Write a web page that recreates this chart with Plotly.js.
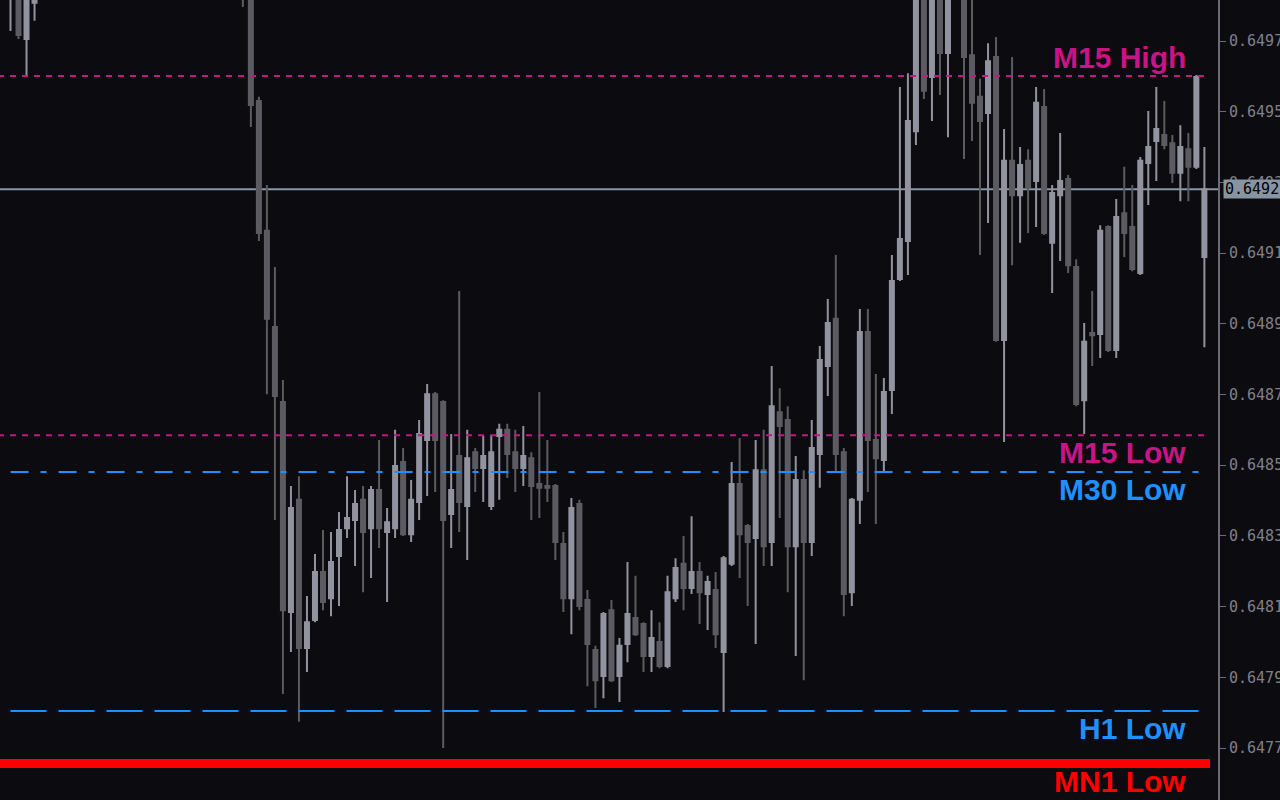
<!DOCTYPE html>
<html>
<head>
<meta charset="utf-8">
<script src="https://cdn.plot.ly/plotly-3.0.1.min.js"></script>
<style>
html,body{margin:0;padding:0;background:#0b0b10;overflow:hidden;width:1280px;height:800px;}
#chart{width:1280px;height:800px;}
</style>
</head>
<body>
<div id="chart"></div>
<script>
// ---- data (prices) ----
const openP = [
0.649844,0.649929,0.649706,0.649808,0.649901,0.649975,0.650020,0.650005,0.650045,0.650090,
0.650060,0.650085,0.650140,0.650110,0.650075,0.650100,0.650150,0.650115,0.650065,0.650030,
0.650060,0.650035,0.649990,0.650020,0.649965,0.649995,0.649955,0.649930,0.649950,0.649990,
0.649858,0.649530,0.649163,0.648891,0.648679,0.648085,0.648402,0.647983,0.648062,0.648198,
0.648124,0.648243,0.648322,0.648345,0.648402,0.648322,0.648430,0.648311,0.648322,0.648509,
0.648305,0.648396,0.648571,0.648701,0.648679,0.648362,0.648526,0.648385,0.648537,0.648492,
0.648385,0.648583,0.648600,0.648537,0.648492,0.648520,0.648447,0.648441,0.648441,0.648277,
0.648124,0.648390,0.648119,0.647977,0.647904,0.648090,0.647904,0.647994,0.648068,0.648051,
0.647960,0.648000,0.647932,0.648124,0.648221,0.648153,0.648198,0.648136,0.648147,0.647972,
0.648221,0.648447,0.648328,0.648294,0.648486,0.648283,0.648650,0.648628,0.648271,0.648458,
0.648283,0.648532,0.648781,0.648914,0.648537,0.648141,0.648402,0.648877,0.648571,0.648515,
0.648713,0.649027,0.649134,0.649445,0.649813,0.649598,0.649830,0.649666,0.649850,0.649940,
0.649660,0.649542,0.649496,0.649655,0.648854,0.649361,0.649264,0.649361,0.649304,0.649513,
0.649129,0.649264,0.649310,0.649061,0.648684,0.648874,0.648871,0.649174,0.648826,0.649213,
0.649174,0.649044,0.649355,0.649417,0.649434,0.649411,0.649327,0.649394,0.649344,0.649089
];
const highP = [
0.649957,0.649943,0.649830,0.649929,0.649990,0.650040,0.650080,0.650060,0.650110,0.650130,
0.650100,0.650150,0.650180,0.650135,0.650120,0.650160,0.650170,0.650130,0.650095,0.650080,
0.650090,0.650050,0.650040,0.650030,0.650010,0.650020,0.649985,0.649970,0.649980,0.650000,
0.649873,0.649542,0.649293,0.649061,0.648741,0.648441,0.648469,0.648130,0.648249,0.648317,
0.648311,0.648368,0.648469,0.648430,0.648441,0.648441,0.648571,0.648379,0.648600,0.648549,
0.648458,0.648628,0.648730,0.648707,0.648684,0.648588,0.648993,0.648600,0.648549,0.648583,
0.648583,0.648617,0.648617,0.648600,0.648611,0.648537,0.648707,0.648571,0.648447,0.648311,
0.648407,0.648402,0.648147,0.647989,0.648085,0.648119,0.648011,0.648226,0.648187,0.648056,
0.648090,0.648056,0.648187,0.648237,0.648300,0.648356,0.648226,0.648187,0.648198,0.648243,
0.648509,0.648577,0.648334,0.648571,0.648600,0.648781,0.648718,0.648667,0.648526,0.648486,
0.648628,0.648837,0.648970,0.649095,0.648549,0.648407,0.648942,0.648942,0.648758,0.648747,
0.649095,0.649570,0.649609,0.649901,0.649858,0.649887,0.649873,0.649901,0.649960,0.649960,
0.649824,0.649593,0.649694,0.649711,0.649451,0.649655,0.649400,0.649394,0.649570,0.649564,
0.649293,0.649440,0.649321,0.649083,0.648902,0.648993,0.649179,0.649179,0.649253,0.649344,
0.649293,0.649372,0.649502,0.649570,0.649530,0.649434,0.649462,0.649440,0.649604,0.649400
];
const lowP = [
0.649728,0.649706,0.649604,0.649757,0.649870,0.649950,0.649990,0.649960,0.650030,0.650050,
0.650020,0.650070,0.650100,0.650060,0.650040,0.650090,0.650100,0.650050,0.650010,0.650000,
0.650020,0.649970,0.649960,0.649950,0.649920,0.649940,0.649900,0.649880,0.649870,0.649796,
0.649457,0.649134,0.648701,0.648345,0.647853,0.647972,0.647774,0.647915,0.648056,0.648090,
0.648073,0.648102,0.648294,0.648215,0.648141,0.648181,0.648266,0.648113,0.648294,0.648300,
0.648283,0.648345,0.648413,0.648424,0.647700,0.648266,0.648311,0.648232,0.648424,0.648396,
0.648373,0.648402,0.648464,0.648424,0.648441,0.648345,0.648351,0.648396,0.648232,0.648085,
0.648022,0.648090,0.647875,0.647813,0.647841,0.647887,0.647830,0.647943,0.648017,0.647915,
0.647915,0.647926,0.647926,0.648113,0.648090,0.648136,0.648051,0.648034,0.647983,0.647802,
0.648215,0.648181,0.648102,0.647994,0.648215,0.648215,0.648351,0.648141,0.647960,0.647892,
0.648243,0.648436,0.648696,0.648481,0.648073,0.648102,0.648334,0.648424,0.648334,0.648481,
0.648645,0.649021,0.649038,0.649406,0.649536,0.649474,0.649547,0.649428,0.649830,0.649366,
0.649417,0.649095,0.649185,0.648849,0.648566,0.649066,0.649129,0.649157,0.649174,0.649151,
0.648987,0.649078,0.649044,0.648667,0.648588,0.648781,0.648803,0.648820,0.648803,0.649089,
0.649049,0.649038,0.649236,0.649304,0.649394,0.649298,0.649247,0.649247,0.649338,0.648834
];
const closeP = [
0.649929,0.649717,0.649813,0.649901,0.649975,0.650020,0.650005,0.650045,0.650090,0.650060,
0.650085,0.650140,0.650110,0.650075,0.650100,0.650150,0.650115,0.650065,0.650030,0.650060,
0.650035,0.649990,0.650020,0.649965,0.649995,0.649955,0.649930,0.649950,0.649990,0.649858,
0.649519,0.649157,0.648914,0.648696,0.648090,0.648379,0.647983,0.648056,0.648198,0.648113,
0.648226,0.648317,0.648351,0.648390,0.648311,0.648430,0.648322,0.648339,0.648498,0.648305,
0.648402,0.648588,0.648701,0.648571,0.648345,0.648430,0.648396,0.648520,0.648492,0.648526,
0.648537,0.648600,0.648532,0.648492,0.648526,0.648441,0.648436,0.648436,0.648283,0.648124,
0.648379,0.648102,0.647994,0.647892,0.648079,0.647892,0.647989,0.648079,0.648022,0.647960,
0.648011,0.647932,0.648141,0.648209,0.648153,0.648198,0.648141,0.648170,0.648022,0.648237,
0.648447,0.648305,0.648283,0.648486,0.648271,0.648667,0.648611,0.648271,0.648458,0.648283,
0.648549,0.648798,0.648902,0.648532,0.648136,0.648402,0.648877,0.648571,0.648520,0.648707,
0.649021,0.649140,0.649474,0.649844,0.649559,0.649830,0.649666,0.649844,0.649940,0.649655,
0.649525,0.649474,0.649643,0.648854,0.649361,0.649264,0.649349,0.649287,0.649525,0.649157,
0.649270,0.649304,0.649066,0.648673,0.648849,0.648868,0.649163,0.648826,0.649202,0.649157,
0.649055,0.649361,0.649400,0.649451,0.649406,0.649327,0.649400,0.649344,0.649598,0.649281
];
const levelLabels = ['M15 High', 'M15 Low', 'M30 Low', 'H1 Low', 'MN1 Low'];
const levelPrices = [0.649601, 0.648585, 0.648481, 0.647805, 0.647656];
const tickValues = [0.6497, 0.6495, 0.6493, 0.6491, 0.6489, 0.6487, 0.6485, 0.6483, 0.6481, 0.6479, 0.6477];

// ---- drawing ----
const idx = openP.map((_, i) => i);
const last = idx.length - 1;
const bg = '#0b0b10';
const upCol = '#93939f';
const dnCol = '#5b5b61';
const monoFont = 'DejaVu Sans Mono, Liberation Mono, monospace';

const candle = {
  type: 'candlestick', x: idx, open: openP, high: highP, low: lowP, close: closeP,
  increasing: {line: {color: upCol, width: 2}, fillcolor: upCol},
  decreasing: {line: {color: dnCol, width: 2}, fillcolor: dnCol},
  whiskerwidth: 0, hoverinfo: 'skip', showlegend: false
};

const styles = {
  'M15 High': {color: '#C71585', dash: '6px,6px', width: 2, x0: -1.56, shift: 19},
  'M15 Low':  {color: '#C71585', dash: '6px,6px', width: 2, x0: -1.56, shift: -17},
  'M30 Low':  {color: '#1E90FF', dash: '18px,12px,6px,12px', width: 2, x0: 0, shift: -18},
  'H1 Low':   {color: '#1E90FF', dash: '36px,12px', width: 2, x0: 0, shift: -17.5},
  'MN1 Low':  {color: '#FF0000', dash: 'solid', width: 9, x0: -1.4, shift: -17.5, x1: last + 0.7}
};

const shapes = [];
const annotations = [];
levelLabels.forEach((name, k) => {
  const s = styles[name];
  shapes.push({type: 'line', xref: 'x', yref: 'y', x0: s.x0, x1: s.x1 !== undefined ? s.x1 : last,
    y0: levelPrices[k], y1: levelPrices[k], line: {color: s.color, width: s.width, dash: s.dash}, layer: 'above'});
  annotations.push({xref: 'paper', yref: 'y', x: 1188 / 1218, xanchor: 'right', y: levelPrices[k], yanchor: 'middle',
    yshift: s.shift, showarrow: false, text: '<b>' + name + '</b>',
    font: {family: 'Liberation Sans, Arial, sans-serif', size: 30, color: s.color}});
});
// current price line and label
const cur = closeP[last];
shapes.push({type: 'line', xref: 'paper', yref: 'y', x0: 0, x1: 1, y0: cur, y1: cur,
  line: {color: '#8a97a4', width: 2}, layer: 'below'});
annotations.push({xref: 'paper', yref: 'y', x: 1, xanchor: 'left', xshift: 5, y: cur, yanchor: 'middle',
  showarrow: false, text: cur.toFixed(5), bgcolor: '#8795a3', borderpad: 1,
  width: 54, height: 16, align: 'left',
  font: {family: monoFont, size: 15, color: '#000000'}});

const layout = {
  width: 1280, height: 800,
  margin: {l: 0, r: 62, t: 0, b: 0, pad: 0},
  paper_bgcolor: bg, plot_bgcolor: bg,
  showlegend: false,
  boxgap: 0.5, boxgroupgap: 0, boxmode: 'overlay',
  xaxis: {range: [-1.31, 150.7], visible: false, fixedrange: true, rangeslider: {visible: false}},
  yaxis: {range: [0.647553, 0.649816], side: 'right', showgrid: false, zeroline: false,
    showline: true, linecolor: '#6c6c76', linewidth: 2, ticks: 'outside', ticklen: 6, tickwidth: 1,
    tickcolor: '#6c6c76', tickvals: tickValues, ticktext: tickValues.map(v => v.toFixed(5)),
    tickfont: {family: monoFont, size: 15, color: '#80808a'},
    automargin: false, fixedrange: true},
  shapes: shapes,
  annotations: annotations
};

Plotly.newPlot('chart', [candle], layout, {staticPlot: true, displayModeBar: false});
</script>
</body>
</html>
